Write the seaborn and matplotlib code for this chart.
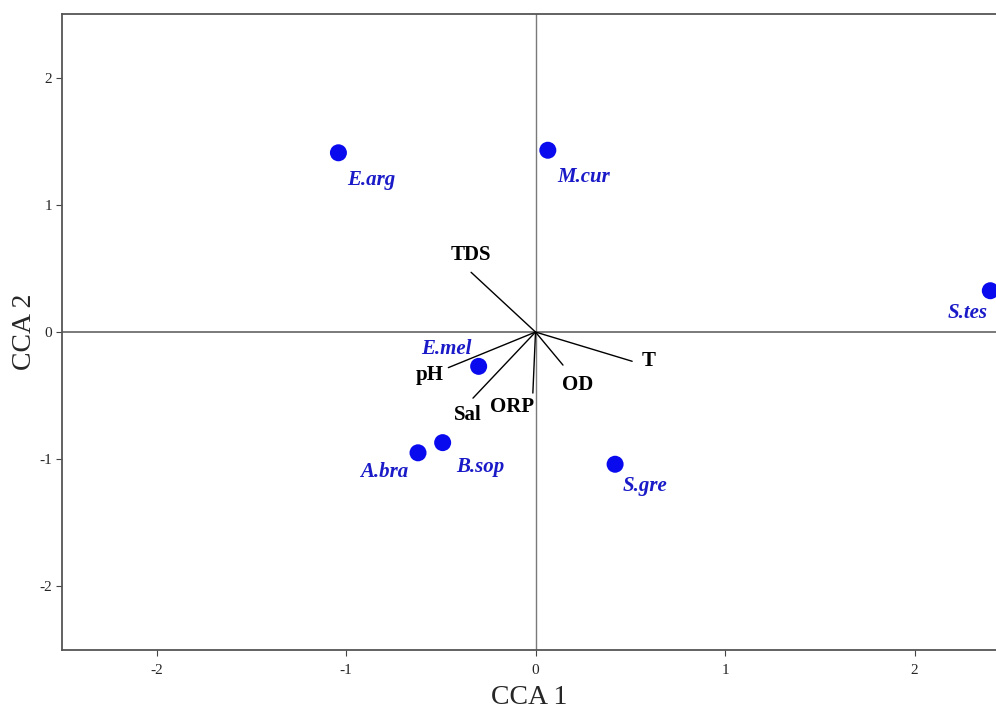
import matplotlib
matplotlib.use("Agg")
import matplotlib.pyplot as plt
import seaborn as sns
import pandas as pd

# Species scores
species = ["E.arg", "M.cur", "S.tes", "E.mel", "B.sop", "A.bra", "S.gre"]
cca1 = [-1.04, 0.065, 2.40, -0.30, -0.49, -0.62, 0.42]
cca2 = [1.41, 1.43, 0.325, -0.27, -0.87, -0.95, -1.04]

# Environmental vectors
env_vars = ["TDS", "T", "OD", "ORP", "Sal", "pH"]
env_x = [-0.34, 0.51, 0.145, -0.014, -0.33, -0.46]
env_y = [0.47, -0.23, -0.26, -0.48, -0.52, -0.28]

x_ticks = [-2, -1, 0, 1, 2]
y_ticks = [-2, -1, 0, 1, 2]

sns.set_theme(style="white")
plt.rcParams["font.family"] = ["Liberation Serif", "DejaVu Serif"]

fig = plt.figure(figsize=(9.96, 7.11), dpi=100)
ax = fig.add_axes([0.062, 0.086, 0.938, 0.894])

df = pd.DataFrame({"CCA 1": cca1, "CCA 2": cca2, "sp": species})

ax.axhline(0, color="#7a7a7a", lw=1.4, zorder=1)
ax.axvline(0, color="#7a7a7a", lw=1.0, zorder=1)

for ex, ey in zip(env_x, env_y):
    ax.plot([0, ex], [0, ey], color="black", lw=1.0, zorder=2)

sns.scatterplot(data=df, x="CCA 1", y="CCA 2", s=150, color="#0a0aee",
                edgecolor="none", ax=ax, zorder=3)

sp_off = {"E.arg": (9, -27, "left"), "M.cur": (9, -27, "left"),
          "S.tes": (-3, -22, "right"), "E.mel": (-7, 17, "right"),
          "A.bra": (-10, -19, "right"), "B.sop": (14, -24, "left"),
          "S.gre": (8, -22, "left")}
for name, x, y in zip(species, cca1, cca2):
    dx, dy, ha = sp_off[name]
    ax.annotate(name, (x, y), xytext=(dx, dy), textcoords="offset pixels",
                ha=ha, va="center", color="#1a1ac8", fontsize=15,
                fontweight="bold", fontstyle="italic", zorder=4)

env_off = {"TDS": (0, 17, "center"), "T": (9, 0, "left"),
           "OD": (15, -20, "center"), "ORP": (-21, -14, "center"),
           "Sal": (-5, -17, "center"), "pH": (-5, -7, "right")}
for name, x, y in zip(env_vars, env_x, env_y):
    dx, dy, ha = env_off[name]
    ax.annotate(name, (x, y), xytext=(dx, dy), textcoords="offset pixels",
                ha=ha, va="center", color="black", fontsize=15,
                fontweight="bold", zorder=4)

ax.set_xlim(-2.5, 2.43)
ax.set_ylim(-2.5, 2.5)
ax.set_xticks(x_ticks)
ax.set_yticks(y_ticks)
ax.set_xticklabels([str(t) for t in x_ticks])
ax.set_yticklabels([str(t) for t in y_ticks])
ax.tick_params(axis="both", which="both", direction="out", length=4, width=0.8,
               color="#444444", labelsize=11, left=True, bottom=True)
ax.tick_params(axis="x", pad=6)
ax.tick_params(axis="y", pad=3)
ax.set_xlabel("CCA 1", fontsize=20, labelpad=6)
ax.set_ylabel("CCA 2", fontsize=20, labelpad=2)

for side in ["left", "bottom", "top"]:
    ax.spines[side].set_color("#555555")
    ax.spines[side].set_linewidth(1.3)
ax.spines["right"].set_visible(False)

fig.savefig("out.png", dpi=100, facecolor="white")
